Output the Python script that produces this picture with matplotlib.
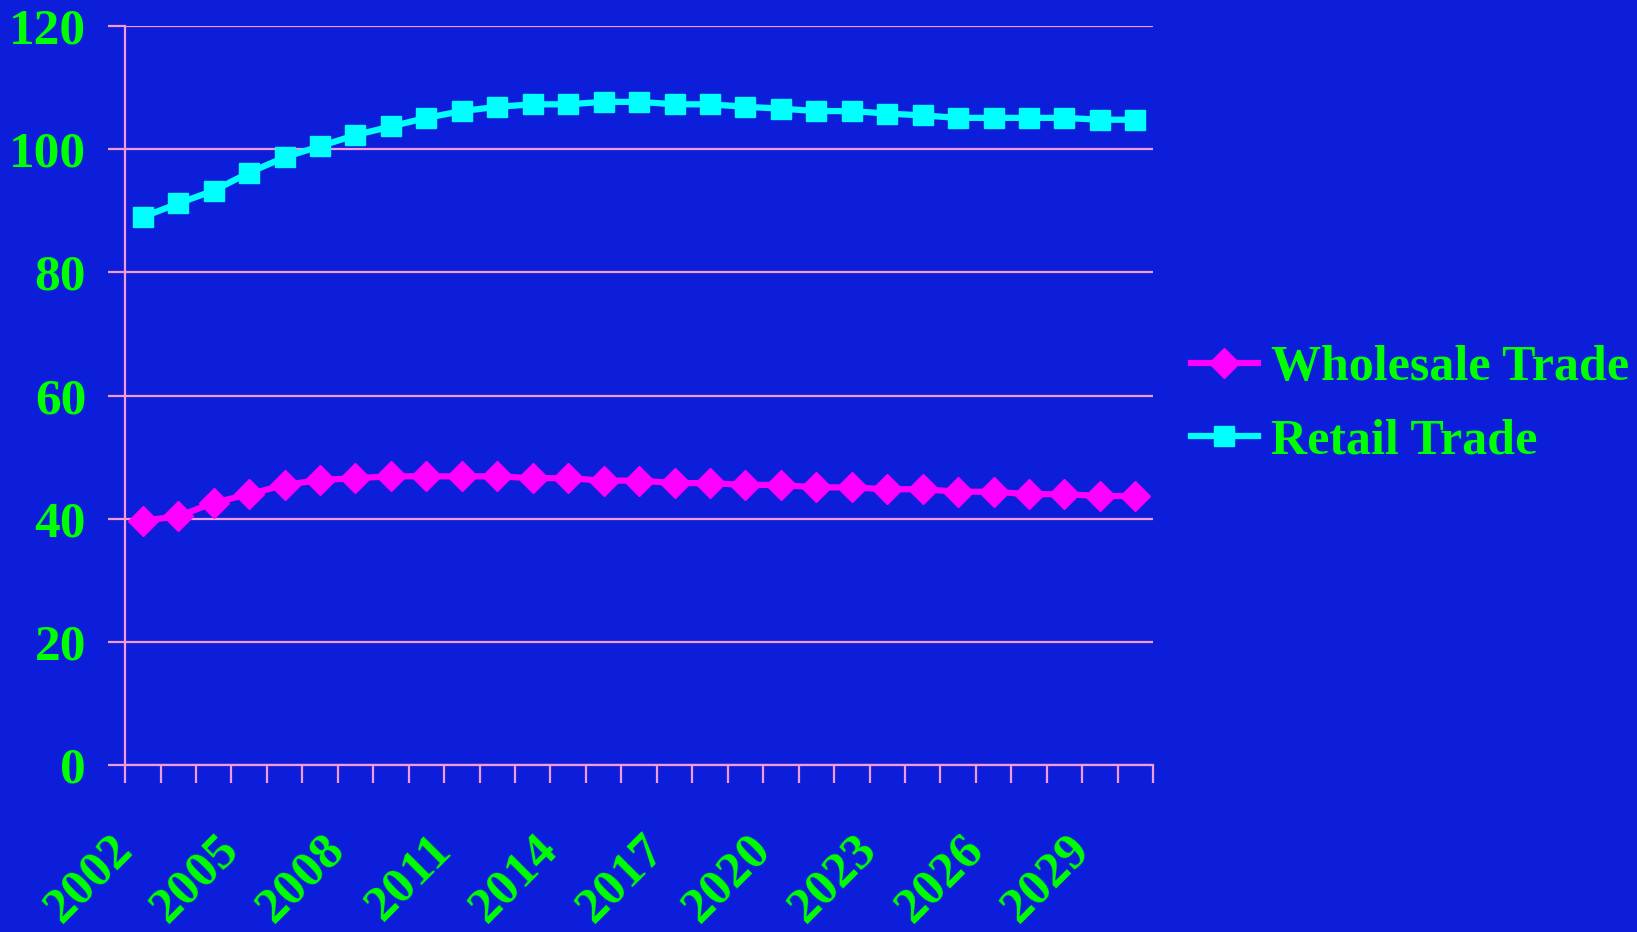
import numpy as np
import matplotlib
matplotlib.use('Agg')
import matplotlib.pyplot as plt
import matplotlib.transforms as mtransforms

# Data
years = list(range(2002, 2031))
wholesale = [39.7, 40.4, 42.6, 44.0, 45.5, 46.3, 46.6, 46.9, 46.9, 46.9,
             46.9, 46.6, 46.6, 46.2, 46.2, 45.8, 45.8, 45.5, 45.5, 45.1,
             45.1, 44.8, 44.8, 44.4, 44.4, 44.0, 44.0, 43.7, 43.7]
retail = [89.0, 91.2, 93.3, 96.2, 98.7, 100.5, 102.3, 103.7, 105.1, 106.2,
          106.9, 107.3, 107.3, 107.7, 107.7, 107.3, 107.3, 106.9, 106.6, 106.2,
          106.2, 105.8, 105.5, 105.1, 105.1, 105.1, 105.1, 104.8, 104.8]
yticks = [0, 20, 40, 60, 80, 100, 120]

bg = '#0c1ed9'
green = '#00ff00'
pink = '#f59ad8'

plt.rcParams['font.family'] = ['Liberation Serif', 'DejaVu Serif']
plt.rcParams['font.weight'] = 'bold'

fig = plt.figure(figsize=(16.37, 9.32), dpi=100, facecolor=bg)
ax = fig.add_axes([0.0764, 0.179, 0.628, 0.793], facecolor=bg)

x = np.arange(len(years))
ax.plot(x, wholesale, color='#ff00ff', lw=4.5, marker='D', ms=15,
        label='Wholesale Trade')
ax.plot(x, retail, color='#00ffff', lw=4.5, marker='s', ms=14.5,
        label='Retail Trade')

ax.set_xlim(-0.5, len(years) - 0.5)
ax.set_ylim(0, 120)
ax.set_yticks(yticks)
ax.yaxis.grid(True, color=pink, lw=1.6)
ax.set_axisbelow(True)

for s in ['top', 'right']:
    ax.spines[s].set_visible(False)
for s in ['left', 'bottom']:
    ax.spines[s].set_color(pink)
    ax.spines[s].set_linewidth(1.6)

ax.tick_params(axis='y', colors=pink, length=12, width=1.6, pad=16,
               labelcolor=green, labelsize=37)

# tick marks between categories, labels every third year
ax.set_xticks(np.arange(-0.5, len(years)), minor=True)
ax.tick_params(axis='x', which='minor', colors=pink, length=13, width=1.6)
ax.set_xticks(x[:-1:3])
ax.set_xticklabels([str(y) for y in years[:-1:3]])
ax.tick_params(axis='x', which='major', length=0, pad=44,
               labelcolor=green, labelsize=37)
offset = mtransforms.ScaledTranslation(-1 / 100, 0, fig.dpi_scale_trans)
for lab in ax.get_xticklabels():
    lab.set_rotation(45)
    lab.set_ha('right')
    lab.set_va('top')
    lab.set_transform(lab.get_transform() + offset)

leg = ax.legend(loc='center left', bbox_to_anchor=(1.017, 0.487), frameon=False,
                borderaxespad=0, fontsize=36, handlelength=1.35,
                handletextpad=0.25, labelspacing=0.55)
for t in leg.get_texts():
    t.set_color(green)

fig.savefig('out.png', dpi=100, facecolor=bg)
